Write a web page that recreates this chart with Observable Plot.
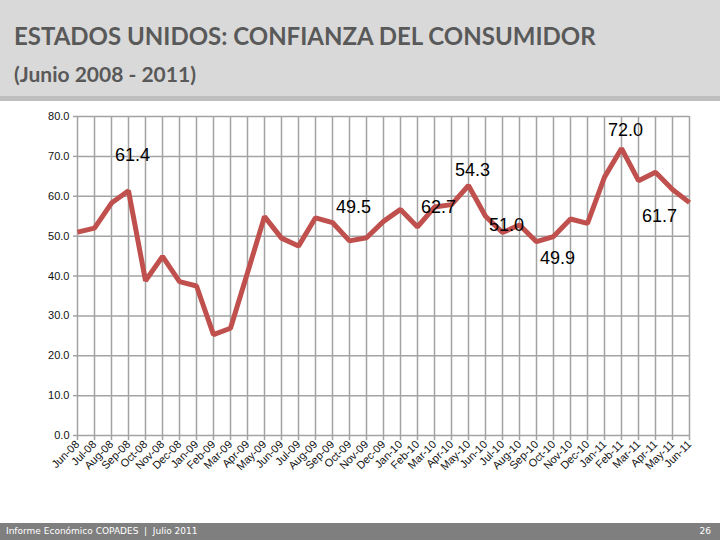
<!DOCTYPE html>
<html>
<head>
<meta charset="utf-8">
<script src="https://cdn.jsdelivr.net/npm/d3@7"></script>
<script src="https://cdn.jsdelivr.net/npm/@observablehq/plot@0.6"></script>
<style>
  html, body { margin: 0; padding: 0; background: #fff; }
  #page { width: 720px; height: 540px; position: relative; overflow: hidden; }
  #header { height: 96px; background: #d9d9d9; border-bottom: 5px solid #bfbfbf; position: relative; }
  #title { position: absolute; left: 14px; top: 21px; font-family: Lato, "Open Sans", sans-serif; font-weight: bold; font-size: 24px; color: #595959; white-space: nowrap; }
  #subtitle { position: absolute; left: 14px; top: 61px; font-family: Lato, "Open Sans", sans-serif; font-weight: bold; font-size: 21px; color: #595959; white-space: nowrap; }
  #chart { height: 422px; }
  #chart svg { display: block; }
  #footer { position: absolute; left: 0; top: 523px; width: 720px; height: 17px; background: #7f7f7f; color: #fff; font-family: "DejaVu Sans", sans-serif; font-size: 9px; line-height: 17px; }
  #footer .left { position: absolute; left: 6px; }
  #footer .right { position: absolute; right: 9px; }
</style>
</head>
<body>
<div id="page">
  <div id="header">
    <div id="title">ESTADOS UNIDOS: CONFIANZA DEL CONSUMIDOR</div>
    <div id="subtitle">(Junio 2008 - 2011)</div>
  </div>
  <div id="chart"></div>
  <div id="footer"><span class="left">Informe Económico COPADES &nbsp;|&nbsp; Julio 2011</span><span class="right">26</span></div>
</div>
<script>
const months = ["Jun-08","Jul-08","Aug-08","Sep-08","Oct-08","Nov-08","Dec-08","Jan-09","Feb-09","Mar-09","Apr-09","May-09",
  "Jun-09","Jul-09","Aug-09","Sep-09","Oct-09","Nov-09","Dec-09","Jan-10","Feb-10","Mar-10","Apr-10","May-10",
  "Jun-10","Jul-10","Aug-10","Sep-10","Oct-10","Nov-10","Dec-10","Jan-11","Feb-11","Mar-11","Apr-11","May-11","Jun-11"];
const confidence = [51.0,52.0,58.3,61.4,38.8,44.9,38.6,37.5,25.3,26.9,40.8,54.9,
  49.5,47.5,54.6,53.4,48.8,49.6,53.7,56.7,52.3,57.3,57.9,62.7,
  55.0,50.9,52.8,48.6,49.9,54.3,53.2,64.8,72.0,63.9,66.0,61.7,58.4];
const yTicks = [0,10,20,30,40,50,60,70,80];

const labelText  = ["61.4","49.5","62.7","54.3","51.0","49.9","72.0","61.7"];
const labelMonth = ["Sep-08","Oct-09","Mar-10","May-10","Jul-10","Oct-10","Feb-11","Apr-11"];
const labelY     = [70.3, 57.2, 57.2, 66.5, 52.7, 44.4, 76.6, 55.0];

const series = months.map((m, i) => ({month: m, value: confidence[i]}));
const labels = labelText.map((t, i) => ({text: t, month: labelMonth[i], y: labelY[i]}));

const gridColor = "#a3a3a3";
const chart = Plot.plot({
  width: 720,
  height: 422,
  marginTop: 15,
  marginBottom: 88,
  marginLeft: 77,
  marginRight: 31,
  style: {fontFamily: "'Liberation Sans', Arial, sans-serif", fontSize: "11px", color: "#111", background: "transparent"},
  x: {type: "point", domain: months, padding: 0, label: null},
  y: {domain: [0, 80], label: null},
  marks: [
    Plot.ruleY(yTicks, {y: d => d, stroke: gridColor, strokeWidth: 1.5, strokeOpacity: 1}),
    Plot.ruleX(months, {x: d => d, y1: 0, y2: 80, stroke: gridColor, strokeWidth: 1.5, strokeOpacity: 1}),
    Plot.axisY({ticks: yTicks, tickFormat: d => d.toFixed(1), tickSize: 4, tickPadding: 4, stroke: gridColor, strokeWidth: 1.5, strokeOpacity: 1, fontSize: 11}),
    Plot.axisX({tickRotate: -45, tickSize: 5, tickPadding: 2, stroke: gridColor, strokeWidth: 1.5, strokeOpacity: 1, fontSize: 11}),
    Plot.line(series, {x: "month", y: "value", stroke: "#c0504d", strokeWidth: 5, strokeLinejoin: "miter", strokeLinecap: "butt"}),
    Plot.text(labels, {x: "month", y: "y", text: "text", dx: 4, fontSize: 18, fill: "#000", fontFamily: "'Liberation Sans', Arial, sans-serif"})
  ]
});
document.getElementById("chart").appendChild(chart);
</script>
</body>
</html>
